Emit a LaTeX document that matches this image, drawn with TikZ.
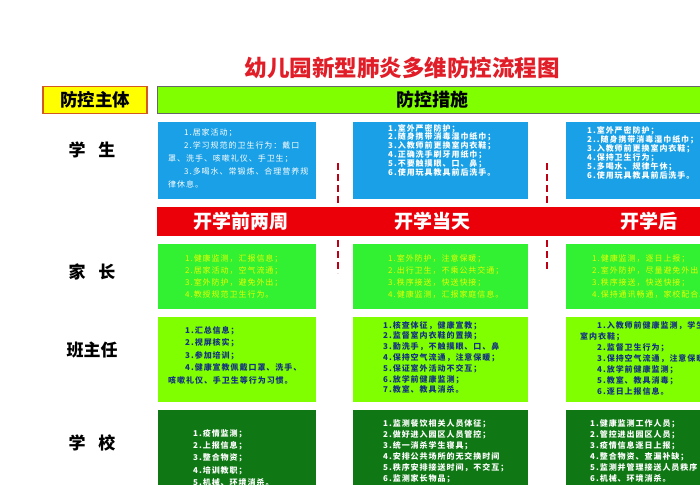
\documentclass[tikz,border=0pt]{standalone}
\usepackage{xcolor}
\usepackage{fontspec}
\setmainfont{Noto Sans CJK SC}
\newfontfamily\boxfont[LetterSpace=12]{Noto Sans CJK SC}
\definecolor{titlered}{RGB}{225,30,40}
\definecolor{hdryellow}{RGB}{255,255,0}
\definecolor{hdrline}{RGB}{210,90,30}
\definecolor{lime}{RGB}{128,255,0}
\definecolor{skyblue}{RGB}{25,160,230}
\definecolor{barred}{RGB}{235,0,10}
\definecolor{dashred}{RGB}{190,0,20}
\definecolor{brightgreen}{RGB}{50,240,50}
\definecolor{paleyellow}{RGB}{235,255,0}
\definecolor{navy}{RGB}{20,50,130}
\definecolor{deepgreen}{RGB}{15,120,20}

\begin{document}
\begin{tikzpicture}[x=1pt,y=-1pt,
    cell/.style={anchor=north west,inner sep=0pt,outer sep=0pt},
    txt/.style={anchor=north west,inner sep=0pt,align=left,font=\boxfont\fontsize{8}{#1}\selectfont},
    txtb/.style={anchor=north west,inner sep=0pt,align=left,font=\boxfont\bfseries\fontsize{8}{#1}\selectfont},
    rowlabel/.style={font=\bfseries\fontsize{17}{17}\selectfont},
    stage/.style={text=white,font=\bfseries\fontsize{19}{19}\selectfont},
    dashline/.style={draw=dashred,line width=2.4pt,dash pattern=on 7pt off 4pt}]
    \path[use as bounding box] (0,0) rectangle (700,484);
    \clip (0,0) rectangle (700,484);
    \fill[white] (0,0) rectangle (700,484);

    \node at (402,68) (title) {\textcolor{titlered}{\bfseries\fontsize{22.5}{22.5}\selectfont 幼儿园新型肺炎多维防控流程图}};

    \node at (95,100) [fill=hdryellow,draw=hdrline,line width=1.2pt,minimum width=104pt,minimum height=27pt,inner sep=0pt] (subj) {\bfseries\fontsize{17.5}{17.5}\selectfont 防控主体};
    \node at (157,86) [cell,fill=lime,draw=black!60,line width=0.8pt,minimum width=600pt,minimum height=27pt] (mbar) {};
    \node at (432,100) (mtxt) {\bfseries\fontsize{18}{18}\selectfont 防控措施};

    \node at (92,150) [rowlabel] (r1) {学\hspace{13pt}生};
    \node at (92,272) [rowlabel] (r2) {家\hspace{13pt}长};
    \node at (92,350) [rowlabel] (r3) {班主任};
    \node at (92,443) [rowlabel] (r4) {学\hspace{13pt}校};

    % dashed dividers, partly behind the red bar
    \coordinate (d1a) at (338,163);
    \coordinate (d1b) at (338,273);
    \coordinate (d2a) at (547,163);
    \coordinate (d2b) at (547,271);
    \draw[dashline] (d1a) -- (d1b);
    \draw[dashline] (d2a) -- (d2b);

    \node at (157,207) [cell,fill=barred,minimum width=600pt,minimum height=29pt] (rbar) {};
    \node at (241,221) [stage] (st1) {开学前两周};
    \node at (432,221) [stage] (st2) {开学当天};
    \node at (649,221) [stage] (st3) {开学后};

    % students
    \node at (158,122) [cell,fill=skyblue,minimum width=158pt,minimum height=77pt] (b11) {};
    \node at (353,122) [cell,fill=skyblue,minimum width=175pt,minimum height=77pt] (b12) {};
    \node at (566,122) [cell,fill=skyblue,minimum width=194pt,minimum height=77pt] (b13) {};
    \node at (168,129) [txt=13,text=white] (t11) {\hspace*{16pt}1.居家活动；\\
        \hspace*{16pt}2.学习规范的卫生行为：戴口\\
        罩、洗手、咳嗽礼仪、手卫生；\\
        \hspace*{16pt}3.多喝水、常锻炼、合理营养规\\
        律休息。};
    \node at (388,124) [txtb=8.8,text=white] (t12) {1.室外严密防护；\\
        2.随身携带消毒湿巾纸巾；\\
        3.入教师前更换室内衣鞋；\\
        4.正确洗手刷牙用纸巾；\\
        5.不要触摸眼、口、鼻；\\
        6.使用玩具教具前后洗手。};
    \node at (587,126) [txtb=9,text=white] (t13) {1.室外严密防护；\\
        2..随身携带消毒湿巾纸巾；\\
        3.入教师前更换室内衣鞋；\\
        4.保持卫生行为；\\
        5.多喝水、规律午休；\\
        6.使用玩具教具前后洗手。};

    % parents
    \node at (158,244) [cell,fill=brightgreen,minimum width=158pt,minimum height=65pt] (b21) {};
    \node at (353,244) [cell,fill=brightgreen,minimum width=175pt,minimum height=65pt] (b22) {};
    \node at (566,244) [cell,fill=brightgreen,minimum width=194pt,minimum height=65pt] (b23) {};
    \node at (185,254) [txt=12.3,text=paleyellow] (t21) {1.健康监测，汇报信息；\\
        2.居家活动，空气流通；\\
        3.室外防护，避免外出；\\
        4.教授规范卫生行为。};
    \node at (388,254) [txt=12.3,text=paleyellow] (t22) {1.室外防护，注意保暖；\\
        2.出行卫生，不乘公共交通；\\
        3.秩序接送，快送快接；\\
        4.健康监测，汇报家庭信息。};
    \node at (592,254) [txt=12.3,text=paleyellow] (t23) {1.健康监测，逐日上报；\\
        2.室外防护，尽量避免外出；\\
        3.秩序接送，快送快接；\\
        4.保持通讯畅通，家校配合。};

    % class teachers
    \node at (158,317) [cell,fill=lime,minimum width=158pt,minimum height=85pt] (b31) {};
    \node at (353,317) [cell,fill=lime,minimum width=175pt,minimum height=85pt] (b32) {};
    \node at (566,317) [cell,fill=lime,minimum width=194pt,minimum height=85pt] (b33) {};
    \node at (168,326) [txtb=12.5,text=navy] (t31) {\hspace*{17pt}1.汇总信息；\\
        \hspace*{17pt}2.视屏核实；\\
        \hspace*{17pt}3.参加培训；\\
        \hspace*{17pt}4.健康宣教佩戴口罩、洗手、\\
        咳嗽礼仪、手卫生等行为习惯。};
    \node at (383,321) [txtb=10.8,text=navy] (t32) {1.核查体征，健康宣教；\\
        2.监督室内衣鞋的置换；\\
        3.勤洗手，不触摸眼、口、鼻\\
        4.保持空气流通，注意保暖；\\
        5.保证室外活动不交互；\\
        6.放学前健康监测；\\
        7.教室、教具消杀。};
    \node at (580,321) [txtb=11,text=navy] (t33) {\hspace*{17pt}1.入教师前健康监测，学生\\
        室内衣鞋；\\
        \hspace*{17pt}2.监督卫生行为；\\
        \hspace*{17pt}3.保持空气流通，注意保暖；\\
        \hspace*{17pt}4.放学前健康监测；\\
        \hspace*{17pt}5.教室、教具消毒；\\
        \hspace*{17pt}6.逐日上报信息。};

    % school
    \node at (158,410) [cell,fill=deepgreen,minimum width=158pt,minimum height=90pt] (b41) {};
    \node at (353,410) [cell,fill=deepgreen,minimum width=175pt,minimum height=90pt] (b42) {};
    \node at (566,410) [cell,fill=deepgreen,minimum width=194pt,minimum height=90pt] (b43) {};
    \node at (193,429) [txtb=12.3,text=white] (t41) {1.疫情监测；\\
        2.上报信息；\\
        3.整合物资；\\
        4.培训教职；\\
        5.机械、环境消杀。};
    \node at (383,419) [txtb=11,text=white] (t42) {1.监测餐饮相关人员体征；\\
        2.做好进入园区人员管控；\\
        3.统一消杀学生寝具；\\
        4.安排公共场所的无交换时间\\
        5.秩序安排接送时间，不交互；\\
        6.监测家长物品；};
    \node at (590,419) [txtb=11,text=white] (t43) {1.健康监测工作人员；\\
        2.管控进出园区人员；\\
        3.疫情信息逐日上报；\\
        4.整合物资、查漏补缺；\\
        5.监测并管理接送人员秩序\\
        6.机械、环境消杀。};
\end{tikzpicture}
\end{document}
